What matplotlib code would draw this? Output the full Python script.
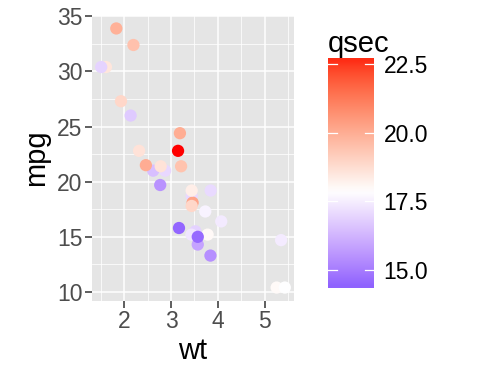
import numpy as np
import matplotlib
matplotlib.use("Agg")
import matplotlib.pyplot as plt

wt = [2.620, 2.875, 2.320, 3.215, 3.440, 3.460, 3.570, 3.190, 3.150, 3.440, 3.440, 4.070, 3.730, 3.780,
      5.250, 5.424, 5.345, 2.200, 1.615, 1.835, 2.465, 3.520, 3.435, 3.840, 3.845, 1.935, 2.140, 1.513,
      3.170, 2.770, 3.570, 2.780]
mpg = [21.0, 21.0, 22.8, 21.4, 18.7, 18.1, 14.3, 24.4, 22.8, 19.2, 17.8, 16.4, 17.3, 15.2, 10.4, 10.4,
       14.7, 32.4, 30.4, 33.9, 21.5, 15.5, 15.2, 13.3, 19.2, 27.3, 26.0, 30.4, 15.8, 19.7, 15.0, 21.4]
qsec = [16.46, 17.02, 18.61, 19.44, 17.02, 20.22, 15.84, 20.00, 22.90, 18.30, 18.90, 17.40, 17.60, 18.00,
        17.98, 17.82, 17.42, 19.47, 18.52, 19.90, 20.01, 16.87, 17.30, 15.41, 17.05, 18.90, 16.70, 16.90,
        14.50, 15.50, 14.60, 18.60]
x_ticks = [2, 3, 4, 5]
y_ticks = [10, 15, 20, 25, 30, 35]
cb_ticks = [15.0, 17.5, 20.0, 22.5]

# --- Lab interpolation (like ggplot's gradient2) ---
def srgb_to_lab(rgb):
    rgb = np.asarray(rgb, float)
    lin = np.where(rgb <= 0.04045, rgb / 12.92, ((rgb + 0.055) / 1.055) ** 2.4)
    M = np.array([[0.4124564, 0.3575761, 0.1804375],
                  [0.2126729, 0.7151522, 0.0721750],
                  [0.0193339, 0.1191920, 0.9503041]])
    xyz = M @ lin
    wp = np.array([0.95047, 1.0, 1.08883])
    t = xyz / wp
    d = 6 / 29
    f = np.where(t > d ** 3, np.cbrt(t), t / (3 * d * d) + 4 / 29)
    return np.array([116 * f[1] - 16, 500 * (f[0] - f[1]), 200 * (f[1] - f[2])])

def lab_to_srgb(lab):
    L, a, b = lab
    fy = (L + 16) / 116
    fx = fy + a / 500
    fz = fy - b / 200
    d = 6 / 29
    f = np.array([fx, fy, fz])
    t = np.where(f > d, f ** 3, 3 * d * d * (f - 4 / 29))
    wp = np.array([0.95047, 1.0, 1.08883])
    xyz = t * wp
    Minv = np.array([[3.2404542, -1.5371385, -0.4985314],
                     [-0.9692660, 1.8760108, 0.0415560],
                     [0.0556434, -0.2040259, 1.0572252]])
    lin = Minv @ xyz
    lin = np.clip(lin, 0, 1)
    rgb = np.where(lin <= 0.0031308, 12.92 * lin, 1.055 * lin ** (1 / 2.4) - 0.055)
    return np.clip(rgb, 0, 1)

LOW = srgb_to_lab([0, 0, 1])
MID = srgb_to_lab([1, 1, 1])
HIGH = srgb_to_lab([1, 0, 0])
mid_val = float(np.mean(qsec))
half = max(max(qsec) - mid_val, mid_val - min(qsec))

def qcolor(v):
    t = (v - mid_val) / (2 * half) + 0.5
    if t < 0.5:
        f = t / 0.5
        lab = LOW + (MID - LOW) * f
    else:
        f = (t - 0.5) / 0.5
        lab = MID + (HIGH - MID) * f
    return lab_to_srgb(lab)

FONT = "Liberation Sans"
TICK_FS = 16.5
TITLE_FS = 21

W, H = 480, 384
fig = plt.figure(figsize=(4.8, 3.84), dpi=100)
fig.patch.set_facecolor("white")

pl, pr, pt, pb = 92, 294, 15.5, 300.5
ax = fig.add_axes([pl / W, 1 - pb / H, (pr - pl) / W, (pb - pt) / H])
ax.set_facecolor("#E5E5E5")
xlo, xhi = min(wt), max(wt)
ylo, yhi = min(mpg), max(mpg)
ax.set_xlim(xlo - 0.05 * (xhi - xlo), xhi + 0.05 * (xhi - xlo))
ax.set_ylim(ylo - 0.05 * (yhi - ylo), yhi + 0.05 * (yhi - ylo))
for xm in [1.5, 2.5, 3.5, 4.5, 5.5]:
    ax.axvline(xm, color="white", lw=0.55, zorder=0.5)
for ym in [12.5, 17.5, 22.5, 27.5, 32.5]:
    ax.axhline(ym, color="white", lw=0.55, zorder=0.5)
for xm in x_ticks:
    ax.axvline(xm, color="white", lw=1.1, zorder=0.6)
for ym in y_ticks:
    ax.axhline(ym, color="white", lw=1.1, zorder=0.6)

cols = [qcolor(v) for v in qsec]
ax.scatter(wt, mpg, c=cols, s=78, linewidths=0, zorder=2)

ax.set_xticks(x_ticks)
ax.set_yticks(y_ticks)
ax.set_xticklabels([str(v) for v in x_ticks])
ax.set_yticklabels([str(v) for v in y_ticks])
for s in ax.spines.values():
    s.set_visible(False)
ax.tick_params(axis="both", colors="#333333", length=5, width=1.1, labelsize=TICK_FS,
               labelcolor="#4D4D4D", pad=2)
for lab in ax.get_xticklabels() + ax.get_yticklabels():
    lab.set_fontfamily(FONT)
ax.set_xlabel("wt", fontsize=TITLE_FS, family=FONT, labelpad=3)
ax.set_ylabel("mpg", fontsize=TITLE_FS, family=FONT, labelpad=5)

# colorbar
cl, cr, ct, cbt = 328, 374, 58.3, 288
cax = fig.add_axes([cl / W, 1 - cbt / H, (cr - cl) / W, (cbt - ct) / H])
vlo, vhi = 14.33, 22.71
nbin = 40
edges = np.linspace(vlo, vhi, nbin + 1)
centers = (edges[:-1] + edges[1:]) / 2
img = np.array([qcolor(v) for v in centers])[:, None, :]
cax.imshow(img, aspect="auto", origin="lower", extent=[0, 1, vlo, vhi],
           interpolation="bilinear", interpolation_stage="rgba")
cax.set_xlim(0, 1)
cax.set_ylim(vlo, vhi)
for v in cb_ticks:
    cax.plot([0, 0.2], [v, v], color="white", lw=0.9)
    cax.plot([0.8, 1], [v, v], color="white", lw=0.9)
cax.set_xticks([])
cax.yaxis.tick_right()
cax.set_yticks(cb_ticks)
cax.set_yticklabels([f"{v:.1f}" for v in cb_ticks])
cax.tick_params(axis="y", length=0, labelsize=TICK_FS, labelcolor="black", pad=7)
for lab in cax.get_yticklabels():
    lab.set_fontfamily(FONT)
for s in cax.spines.values():
    s.set_visible(False)
fig.text(cl / W, 1 - 52 / H, "qsec", fontsize=TITLE_FS, family=FONT, ha="left", va="baseline")

fig.savefig("out.png", dpi=100)
